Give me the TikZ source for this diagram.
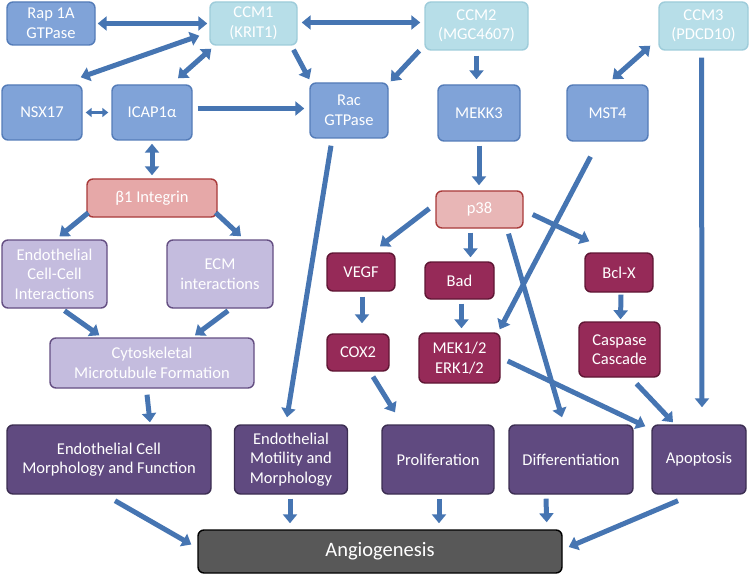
\documentclass[tikz,border=0pt]{standalone}
\usepackage{fontspec}
\setmainfont{Carlito}
\usetikzlibrary{arrows.meta,calc}
\definecolor{midblue}{RGB}{128,163,216}
\definecolor{midblueb}{RGB}{84,124,184}
\definecolor{cyanl}{RGB}{183,222,232}
\definecolor{cyanb}{RGB}{158,204,218}
\definecolor{pinkf}{RGB}{230,168,168}
\definecolor{pinkl}{RGB}{232,182,182}
\definecolor{redb}{RGB}{168,58,58}
\definecolor{lavf}{RGB}{196,188,222}
\definecolor{lavb}{RGB}{100,78,130}
\definecolor{magf}{RGB}{150,42,88}
\definecolor{magb}{RGB}{95,22,52}
\definecolor{purf}{RGB}{96,74,128}
\definecolor{purb}{RGB}{60,46,82}
\definecolor{grayf}{RGB}{88,88,88}
\definecolor{arrowblue}{RGB}{70,117,178}
\tikzset{
  box/.style={rectangle, rounded corners=6pt, line width=1.4pt, text=white, align=center,
    inner sep=0pt, font=\fontsize{16.5}{19.5}\selectfont},
  bluebox/.style={box, fill=midblue, draw=midblueb},
  ccmbox/.style={box, fill=cyanl, draw=cyanb},
  pinkbox/.style={box, fill=pinkf, draw=redb},
  lavbox/.style={box, fill=lavf, draw=lavb},
  magbox/.style={box, fill=magf, draw=magb},
  purbox/.style={box, fill=purf, draw=purb},
  arr/.style={draw=arrowblue, line width=5pt, -{Triangle[width=14pt,length=9pt]}},
  barr/.style={draw=arrowblue, line width=5pt, {Triangle[width=14pt,length=9pt]}-{Triangle[width=14pt,length=9pt]}},
  sbarr/.style={draw=arrowblue, line width=3pt, {Triangle[width=9pt,length=6pt]}-{Triangle[width=9pt,length=6pt]}},
}
\begin{document}
\begin{tikzpicture}[x=1pt,y=-1pt]
\useasboundingbox (0,0) rectangle (750,575);
% top row
\node[bluebox, minimum width=88pt, minimum height=43pt] (rap) at (51,23.5) {Rap 1A\\GTPase};
\node[ccmbox, minimum width=87pt, minimum height=43pt] (ccm1) at (253.5,23.5) {CCM1\\(KRIT1)};
\node[ccmbox, minimum width=103pt, minimum height=48pt] (ccm2) at (476.5,26) {CCM2\\(MGC4607)};
\node[ccmbox, minimum width=89pt, minimum height=48pt] (ccm3) at (703.5,26) {CCM3\\(PDCD10)};
% second row
\node[bluebox, minimum width=80pt, minimum height=55pt] (nsx) at (42,112.5) {NSX17};
\node[bluebox, minimum width=80pt, minimum height=55pt] (icap) at (152,112.5) {ICAP1α};
\node[bluebox, minimum width=78pt, minimum height=55pt] (rac) at (349,110.5) {Rac\\GTPase};
\node[bluebox, minimum width=82pt, minimum height=56pt] (mekk3) at (479,113) {MEKK3};
\node[bluebox, minimum width=81pt, minimum height=56pt] (mst4) at (607.5,113) {MST4};
% pink
\node[pinkbox, minimum width=130pt, minimum height=38pt] (beta) at (152,198) {β1 Integrin};
\node[pinkbox, fill=pinkl, minimum width=87pt, minimum height=37pt] (p38) at (479.5,209.5) {p38};
% lavender
\node[lavbox, minimum width=105pt, minimum height=68pt] (ecc) at (54.5,274) {Endothelial\\Cell-Cell\\Interactions};
\node[lavbox, minimum width=106pt, minimum height=68pt] (ecm) at (220,274) {ECM\\interactions};
\node[lavbox, minimum width=204pt, minimum height=50pt] (cyto) at (152,363) {Cytoskeletal\\Microtubule Formation};
% magenta
\node[magbox, minimum width=68pt, minimum height=38pt] (vegf) at (361,272) {VEGF};
\node[magbox, minimum width=62pt, minimum height=37pt] (cox2) at (358,352.5) {COX2};
\node[magbox, minimum width=69pt, minimum height=37pt] (bad) at (459.5,280.5) {Bad};
\node[magbox, minimum width=81pt, minimum height=50pt] (mek) at (459.5,358) {MEK1/2\\ERK1/2};
\node[magbox, minimum width=68pt, minimum height=39pt] (bclx) at (619,272.5) {Bcl-X};
\node[magbox, minimum width=81pt, minimum height=55pt] (casp) at (619.5,349.5) {Caspase\\Cascade};
% purple outcomes
\node[purbox, minimum width=204pt, minimum height=69pt] (ecmf) at (109,459.5) {Endothelial Cell\\Morphology and Function};
\node[purbox, minimum width=113pt, minimum height=69pt] (emm) at (291,459.5) {Endothelial\\Motility and\\Morphology};
\node[purbox, minimum width=112pt, minimum height=69pt] (prolif) at (438,459.5) {Proliferation};
\node[purbox, minimum width=124pt, minimum height=69pt] (diff) at (571,459.5) {Differentiation};
\node[purbox, minimum width=94pt, minimum height=69pt] (apop) at (699,459.5) {Apoptosis};
% angiogenesis
\node[box, fill=grayf, draw=black, minimum width=364pt, minimum height=43pt, font=\fontsize{20.5}{24}\selectfont] (angio) at (380,551.5) {Angiogenesis};
% arrows
\draw[barr, shorten <=2pt, shorten >=2pt] (rap.east) -- (ccm1.west);
\draw[barr] ($(ccm1.south west)+(-10,-10)$) -- ($(nsx.north east)+(-2,-7)$);
\draw[barr] ($(ccm1.south west)+(2,3)$) -- ($(icap.north)+(26,-6)$);
\draw[arr] ($(ccm1.south)+(40,4)$) -- ($(rac.north west)+(0,-3)$);
\draw[barr, shorten <=4pt, shorten >=4pt] ($(ccm1.east)+(0,-1)$) -- ($(ccm1.east -| ccm2.west)+(0,-1)$);
\draw[arr] ($(ccm2.south west)+(-5,0)$) -- ($(rac.north east)+(2,-1)$);
\draw[arr, shorten <=5pt, shorten >=5pt] (ccm2.south) -- (ccm2.south |- mekk3.north);
\draw[sbarr, shorten <=3pt, shorten >=3pt] (nsx.east) -- (icap.west);
\draw[arr, shorten <=5pt, shorten >=5pt] ($(icap.east)+(0,-4)$) -- ($(icap.east -| rac.west)+(0,-4)$);
\draw[barr, shorten <=3pt, shorten >=3pt] (icap.south) -- (beta.north);
\draw[arr] ($(rac.south)+(-18,7)$) -- ($(emm.north)+(-4,-7)$);
\draw[arr, shorten <=4pt, shorten >=5pt] (mekk3.south) -- (mekk3.south |- p38.north);
\draw[arr] ($(mst4.south)+(-17,15)$) -- ($(mek.north east)+(-1,-3)$);
\draw[barr] ($(mst4.north)+(5,-5)$) -- ($(ccm3.south west)+(-8,-5)$);
\draw[arr] ($(ccm3.south)+(-2,7)$) -- ($(apop.north)+(3,-17)$);
\draw[arr] ($(beta.south west)+(2,-5)$) -- ($(ecc.north)+(5,-3)$);
\draw[arr] ($(beta.south east)+(-2,-5)$) -- ($(ecm.north)+(21,-3)$);
\draw[arr] ($(ecc.south)+(10,2)$) -- ($(cyto.north west)+(50,-2)$);
\draw[arr] ($(ecm.south)+(8,2)$) -- ($(cyto.north)+(43,-2)$);
\draw[arr] ($(cyto.south)+(-5,6)$) -- ($(ecmf.north)+(41,-2)$);
\draw[arr] ($(p38.west)+(-6,-1)$) -- ($(vegf.north)+(19,-6)$);
\draw[arr] ($(p38.south)+(-9,4)$) -- ($(bad.north)+(11,-4)$);
\draw[arr] ($(p38.south)+(29,5)$) -- ($(diff.north)+(-9,-7)$);
\draw[arr] ($(p38.east)+(9,5)$) -- ($(bclx.north west)+(5,-11)$);
\draw[arr] ($(bad.south)+(2,4)$) -- ($(mek.north)+(2,-4)$);
\draw[arr] ($(vegf.south)+(1,5)$) -- ($(cox2.north)+(4,-10)$);
\draw[arr] ($(cox2.south)+(15,5)$) -- ($(prolif.north)+(-43,-12)$);
\draw[arr] ($(mek.east)+(7,3)$) -- ($(apop.north west)+(-6,2)$);
\draw[arr] ($(bclx.south)+(2,2)$) -- ($(casp.north)+(1,-2)$);
\draw[arr] ($(casp.south)+(17,6)$) -- ($(apop.north)+(-26,-2)$);
\draw[arr] ($(ecmf.south)+(6,6)$) -- ($(angio.west)+(-6,-7)$);
\draw[arr] ($(emm.south)+(-1,4)$) -- ($(emm.south |- angio.north)+(-1,-6)$);
\draw[arr] ($(prolif.south)+(1,4)$) -- ($(prolif.south |- angio.north)+(1,-6)$);
\draw[arr] ($(diff.south)+(-25,4)$) -- ($(angio.north east)+(-16,-7)$);
\draw[arr] ($(apop.south)+(-21,6)$) -- ($(angio.east)+(6,-4.5)$);
\end{tikzpicture}
\end{document}
